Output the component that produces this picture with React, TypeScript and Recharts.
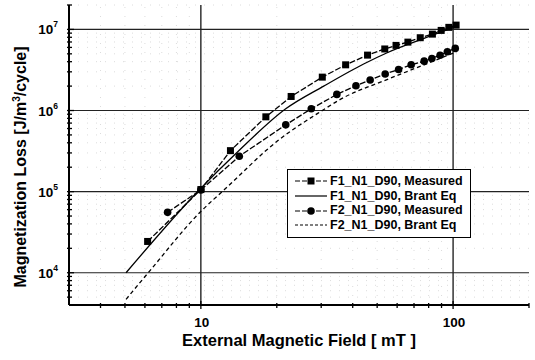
import { LineChart, Line, XAxis, YAxis, ReferenceLine } from "recharts";

const F1_MEAS_X = [6.15, 10, 13.1, 18.1, 22.8, 30.3, 37.5, 45.8, 53.6, 59.4, 66.2, 74.1, 82.8, 89.7, 96.2, 102.8];
const F1_MEAS_Y = [2.43e4, 1.06e5, 3.2e5, 8.36e5, 1.49e6, 2.58e6, 3.66e6, 4.82e6, 5.74e6, 6.35e6, 6.97e6, 7.9e6, 8.75e6, 9.72e6, 1.06e7, 1.13e7];

const F2_MEAS_X = [7.38, 10, 14.2, 21.7, 27.4, 34.6, 41.2, 46.9, 53.8, 60.8, 68.2, 76.8, 82.4, 88.8, 94.9, 102];
const F2_MEAS_Y = [5.55e4, 1.05e5, 2.73e5, 6.66e5, 1.05e6, 1.58e6, 2.02e6, 2.38e6, 2.82e6, 3.21e6, 3.66e6, 4.06e6, 4.38e6, 4.81e6, 5.31e6, 5.83e6];

const F1_BRANT_X = [5.05, 10, 14, 21.7, 30.7, 44.2, 54.8, 75, 100];
const F1_BRANT_Y = [1.0e4, 1.1e5, 3.1e5, 1.05e6, 2.0e6, 3.75e6, 5.16e6, 7.55e6, 1.05e7];

const F2_BRANT_X = [5.05, 6.25, 10, 12.4, 20.1, 30.3, 35.7, 54.7, 75, 103];
const F2_BRANT_Y = [4.7e3, 1.04e4, 5.7e4, 1.06e5, 4.2e5, 1.0e6, 1.37e6, 2.41e6, 3.56e6, 5.3e6];

const X_MAJOR = [10, 100];
const X_MINOR = [4, 5, 6, 7, 8, 9, 20, 30, 40, 50, 60, 70, 80, 90, 200];
const Y_MAJOR = [1e4, 1e5, 1e6, 1e7];
const Y_MINOR = [5e3, 6e3, 7e3, 8e3, 9e3, 2e4, 3e4, 4e4, 5e4, 6e4, 7e4, 8e4, 9e4, 2e5, 3e5, 4e5, 5e5, 6e5, 7e5, 8e5, 9e5, 2e6, 3e6, 4e6, 5e6, 6e6, 7e6, 8e6, 9e6, 2e7];

const zip = (xs: number[], ys: number[]) => xs.map((x, i) => ({ x, y: ys[i] }));

const FONT = '"Liberation Sans", Arial, sans-serif';

const SERIES = [
  { name: "F1_N1_D90, Measured", dash: "5 2", marker: "square" },
  { name: "F1_N1_D90, Brant Eq", dash: undefined, marker: null },
  { name: "F2_N1_D90, Measured", dash: "5 2", marker: "circle" },
  { name: "F2_N1_D90, Brant Eq", dash: "3 2", marker: null },
];

const Square = (props: any) => {
  const { cx, cy } = props;
  if (cx == null || cy == null) return null;
  return <rect x={cx - 3.5} y={cy - 3.5} width={7} height={7} fill="#000" />;
};

const Circle = (props: any) => {
  const { cx, cy } = props;
  if (cx == null || cy == null) return null;
  return <circle cx={cx} cy={cy} r={3.8} fill="#000" />;
};

const isMajorX = (v: number) => X_MAJOR.includes(v);
const isMajorY = (v: number) => Y_MAJOR.includes(v);

const BottomTick = ({ x, y, payload }: any) => {
  const major = isMajorX(payload.value);
  return (
    <g>
      <line x1={x} x2={x} y1={y - (major ? 4 : 2)} y2={y + (major ? 4 : 3)} stroke="#000" strokeWidth={1.3} />
      {major && (
        <text x={x + 1} y={y + 22} textAnchor="middle" fontFamily={FONT} fontWeight="bold" fontSize={13.5} fill="#000">
          {payload.value}
        </text>
      )}
    </g>
  );
};

const TopTick = ({ x, y, payload }: any) => {
  const major = isMajorX(payload.value);
  return <line x1={x} x2={x} y1={y} y2={y + (major ? 5 : 3)} stroke="#000" strokeWidth={1.3} />;
};

const LeftTick = ({ x, y, payload }: any) => {
  const major = isMajorY(payload.value);
  const exp = Math.round(Math.log10(payload.value));
  return (
    <g>
      <line x1={x - 2} x2={x + (major ? 5 : 3)} y1={y} y2={y} stroke="#000" strokeWidth={1.3} />
      {major && (
        <text x={x - 11} y={y + 5} textAnchor="end" fontFamily={FONT} fontWeight="bold" fontSize={13.5} fill="#000">
          10
          <tspan dy={-7} fontSize={8.5}>{exp}</tspan>
        </text>
      )}
    </g>
  );
};

const RightTick = ({ x, y, payload }: any) => {
  const major = isMajorY(payload.value);
  return <line x1={x} x2={x - (major ? 5 : 3)} y1={y} y2={y} stroke="#000" strokeWidth={1.3} />;
};

const YTitle = () => (
  <text
    transform="translate(26,167) rotate(-90)"
    textAnchor="middle"
    fontFamily={FONT}
    fontWeight="bold"
    fontSize={16}
    fill="#000"
  >
    Magnetization Loss [J/m
    <tspan dy={-6} fontSize={10}>3</tspan>
    <tspan dy={6}>/cycle]</tspan>
  </text>
);

const XTitle = () => (
  <text x={299} y={346} textAnchor="middle" fontFamily={FONT} fontWeight="bold" fontSize={16.5} fill="#000">
    External Magnetic Field [ mT ]
  </text>
);

const LegendBox = () => (
  <div
    style={{
      position: "absolute",
      left: 287,
      top: 169,
      border: "1.3px solid #000",
      background: "#fff",
      padding: "4px 6px 4px 6px",
      width: 170,
      fontFamily: FONT,
      fontWeight: "bold",
      fontSize: 12.5,
      lineHeight: "14.7px",
    }}
  >
    {SERIES.map(s => (
      <div key={s.name} style={{ display: "flex", alignItems: "center", whiteSpace: "nowrap" }}>
        <svg width={34} height={10} style={{ marginRight: 2 }}>
          <line x1={1} x2={33} y1={5} y2={5} stroke="#000" strokeWidth={1.2} strokeDasharray={s.dash} />
          {s.marker === "square" && <rect x={13.5} y={1.5} width={7} height={7} fill="#000" />}
          {s.marker === "circle" && <circle cx={17} cy={5} r={3.8} fill="#000" />}
        </svg>
        <span>{s.name}</span>
      </div>
    ))}
  </div>
);

export default function App() {
  return (
    <div style={{ position: "absolute", left: 0, top: 0, width: 535, height: 360, background: "#fff" }}>
      <LineChart width={535} height={360} margin={{ top: 5, right: 6, bottom: 0, left: 0 }}>
        <XAxis
          xAxisId="b"
          dataKey="x"
          type="number"
          scale="log"
          domain={[3, 200]}
          allowDataOverflow
          ticks={[...X_MINOR, ...X_MAJOR].sort((a, b) => a - b)}
          interval={0}
          tick={<BottomTick />}
          tickLine={false}
          tickSize={0}
          tickMargin={0}
          height={55}
          axisLine={{ stroke: "#000", strokeWidth: 2 }}
          label={XTitle}
        />
        <XAxis
          xAxisId="t"
          orientation="top"
          type="number"
          scale="log"
          domain={[3, 200]}
          allowDataOverflow
          ticks={[...X_MINOR, ...X_MAJOR].sort((a, b) => a - b)}
          interval={0}
          tick={<TopTick />}
          tickLine={false}
          tickSize={0}
          tickMargin={0}
          height={0}
          axisLine={{ stroke: "#000", strokeWidth: 2.5 }}
        />
        <YAxis
          yAxisId="l"
          type="number"
          scale="log"
          domain={[4000, 2e7]}
          allowDataOverflow
          ticks={[...Y_MINOR, ...Y_MAJOR].sort((a, b) => a - b)}
          interval={0}
          tick={<LeftTick />}
          tickLine={false}
          tickSize={0}
          tickMargin={0}
          width={69}
          axisLine={{ stroke: "#000", strokeWidth: 2 }}
          label={YTitle}
        />
        <YAxis
          yAxisId="r"
          orientation="right"
          type="number"
          scale="log"
          domain={[4000, 2e7]}
          allowDataOverflow
          ticks={[...Y_MINOR, ...Y_MAJOR].sort((a, b) => a - b)}
          interval={0}
          tick={<RightTick />}
          tickLine={false}
          tickSize={0}
          tickMargin={0}
          width={0}
          axisLine={{ stroke: "#000", strokeWidth: 2 }}
        />

        {X_MINOR.filter(v => v > 3 && v < 200).map(v => (
          <ReferenceLine key={"xm" + v} x={v} xAxisId="b" yAxisId="l" stroke="#dcdcdc" strokeDasharray="1 8" />
        ))}
        {Y_MINOR.map(v => (
          <ReferenceLine key={"ym" + v} y={v} xAxisId="b" yAxisId="l" stroke="#dcdcdc" strokeDasharray="1 8" />
        ))}
        {X_MAJOR.map(v => (
          <ReferenceLine key={"xM" + v} x={v} xAxisId="b" yAxisId="l" stroke="#000" strokeWidth={1.2} />
        ))}
        {Y_MAJOR.map(v => (
          <ReferenceLine key={"yM" + v} y={v} xAxisId="b" yAxisId="l" stroke="#222" strokeWidth={1.2} />
        ))}

        <Line
          xAxisId="b"
          yAxisId="l"
          data={zip(F1_BRANT_X, F1_BRANT_Y)}
          dataKey="y"
          type="monotone"
          stroke="#000"
          strokeWidth={1.3}
          dot={false}
          isAnimationActive={false}
        />
        <Line
          xAxisId="b"
          yAxisId="l"
          data={zip(F2_BRANT_X, F2_BRANT_Y)}
          dataKey="y"
          type="monotone"
          stroke="#000"
          strokeWidth={1.3}
          strokeDasharray="4 3"
          dot={false}
          isAnimationActive={false}
        />
        <Line
          xAxisId="b"
          yAxisId="l"
          data={zip(F1_MEAS_X, F1_MEAS_Y)}
          dataKey="y"
          type="linear"
          stroke="#000"
          strokeWidth={1.3}
          strokeDasharray="6 2"
          dot={<Square />}
          isAnimationActive={false}
        />
        <Line
          xAxisId="b"
          yAxisId="l"
          data={zip(F2_MEAS_X, F2_MEAS_Y)}
          dataKey="y"
          type="linear"
          stroke="#000"
          strokeWidth={1.3}
          strokeDasharray="6 2"
          dot={<Circle />}
          isAnimationActive={false}
        />
      </LineChart>
      <LegendBox />
    </div>
  );
}
